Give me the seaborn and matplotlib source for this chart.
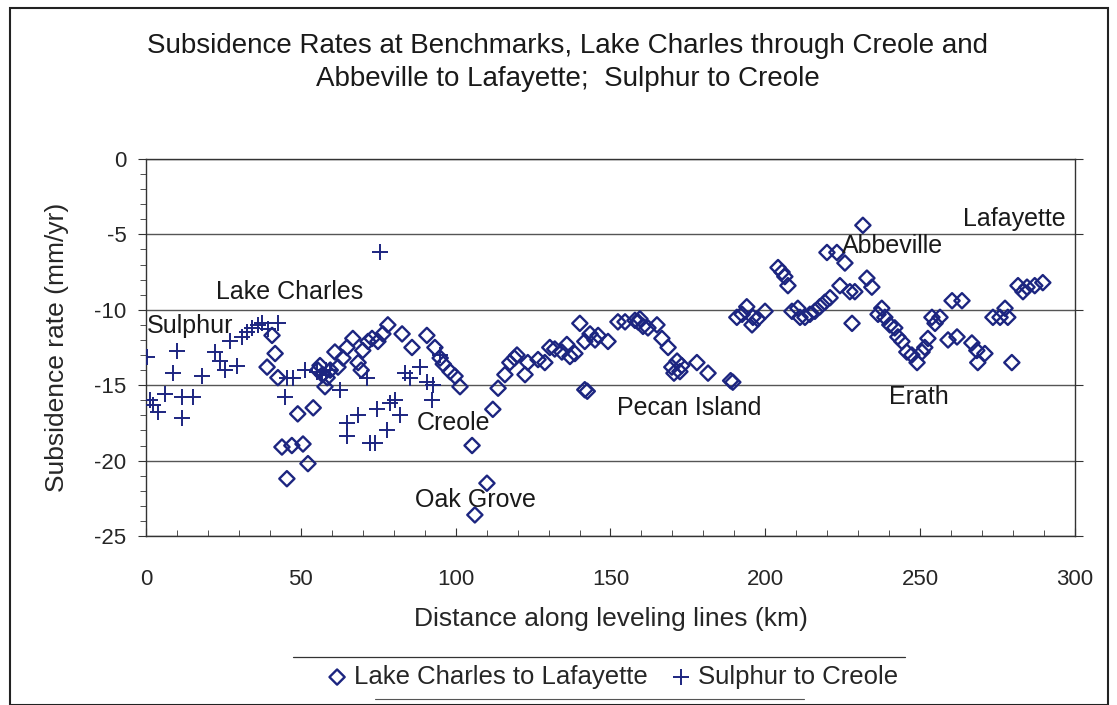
import numpy as np
import pandas as pd
import matplotlib
matplotlib.use("Agg")
import matplotlib.pyplot as plt
import seaborn as sns
from matplotlib.ticker import MultipleLocator
from matplotlib.lines import Line2D

# Lake Charles to Lafayette (diamonds)
lc_km = [39.1, 40.7, 41.7, 42.6, 43.9, 45.5, 47.1, 49.0, 50.7, 52.3, 54.0, 55.5, 56.2, 57.0,
         57.8, 58.5, 59.5, 61.0, 62.0, 63.6, 64.9, 66.8, 68.5, 69.5, 70.0, 71.7, 73.0, 74.9,
         76.5, 78.1, 82.7, 85.9, 90.7, 93.3, 95.0, 96.0, 98.2, 99.8, 101.4, 105.3, 106.2,
         110.1, 112.0, 113.7, 115.9, 117.5, 119.0, 119.8, 122.4, 123.3, 126.6, 128.8, 130.4,
         132.0, 134.3, 135.9, 136.9, 138.5, 140.1, 141.7, 141.7, 142.5, 143.4, 145.0, 146.0,
         149.2, 152.4, 154.7, 157.9, 158.9, 159.5, 160.5, 162.1, 165.0, 166.6, 168.6, 169.8,
         170.5, 171.5, 172.4, 173.0, 177.9, 181.5, 188.8, 189.5, 190.8, 192.5, 194.0, 195.7,
         196.0, 197.5, 199.9, 204.1, 205.4, 206.3, 207.3, 208.6, 210.5, 211.2, 212.8, 214.4,
         216.0, 217.6, 219.2, 219.9, 220.9, 223.1, 224.1, 225.7, 227.3, 228.0, 228.9, 231.5,
         232.8, 234.4, 236.4, 237.6, 238.6, 240.2, 241.8, 242.8, 244.1, 245.7, 247.3, 249.0,
         250.6, 251.5, 252.5, 253.8, 254.8, 256.4, 259.0, 260.3, 261.9, 263.5, 266.7, 268.3,
         268.6, 270.9, 273.5, 275.8, 277.4, 278.3, 279.6, 281.6, 283.2, 284.5, 287.0, 289.6]
lc_rate = [-13.8, -11.7, -12.9, -14.5, -19.1, -21.2, -19.0, -16.9, -18.9, -20.2, -16.5, -14.0,
           -13.7, -14.3, -15.1, -14.5, -14.0, -12.8, -13.8, -13.2, -12.5, -11.9, -13.5, -14.0,
           -12.7, -12.1, -11.9, -12.1, -11.6, -11.0, -11.6, -12.5, -11.7, -12.5, -13.2, -13.6,
           -14.1, -14.4, -15.1, -19.0, -23.6, -21.5, -16.6, -15.2, -14.3, -13.5, -13.2, -13.0,
           -14.3, -13.5, -13.3, -13.5, -12.5, -12.6, -12.8, -12.3, -13.1, -12.9, -10.9, -12.1,
           -15.3, -15.4, -11.6, -12.0, -11.7, -12.1, -10.8, -10.8, -10.7, -10.8, -10.6, -11.1,
           -11.2, -11.0, -11.9, -12.5, -13.8, -14.2, -13.4, -14.1, -13.7, -13.5, -14.2, -14.7,
           -14.8, -10.5, -10.3, -9.8, -11.0, -10.5, -10.6, -10.1, -7.2, -7.5, -7.8, -8.4, -10.1,
           -9.9, -10.5, -10.5, -10.3, -10.1, -9.8, -9.5, -6.2, -9.2, -6.2, -8.4, -6.9, -8.8,
           -10.9, -8.8, -4.4, -7.9, -8.5, -10.3, -9.9, -10.5, -11.0, -11.2, -11.8, -12.1,
           -12.8, -13.0, -13.5, -12.8, -12.5, -11.9, -10.5, -10.9, -10.5, -12.0, -9.4, -11.8,
           -9.4, -12.2, -12.7, -13.5, -12.9, -10.5, -10.5, -9.9, -10.5, -13.5, -8.4, -8.8,
           -8.5, -8.4, -8.2]

# Sulphur to Creole (plus signs)
sc_km = [0.3, 1.3, 2.3, 3.9, 6.1, 8.7, 10.0, 11.6, 11.6, 15.2, 18.1, 22.3, 23.9, 25.5, 27.1,
         29.4, 31.0, 32.6, 34.2, 36.2, 37.5, 39.4, 42.6, 44.9, 45.5, 47.5, 51.3, 55.2, 56.8,
         58.0, 59.4, 62.6, 64.9, 64.9, 68.5, 71.4, 72.3, 73.9, 74.6, 75.6, 77.8, 78.8, 80.4,
         82.0, 83.6, 85.2, 88.5, 90.7, 92.3, 92.7, 95.0]
sc_rate = [-13.1, -16.0, -16.3, -16.8, -15.6, -14.2, -12.7, -15.8, -17.2, -15.8, -14.4, -12.8,
           -13.4, -14.0, -12.1, -13.7, -11.8, -11.5, -11.2, -11.0, -10.9, -11.3, -10.9, -15.8,
           -14.5, -14.5, -14.0, -14.1, -14.3, -14.0, -14.0, -15.3, -17.5, -18.4, -17.0, -14.5,
           -18.8, -18.8, -16.6, -6.2, -18.0, -16.2, -16.0, -17.0, -14.2, -14.5, -13.8, -14.8,
           -16.0, -15.0, -13.0]

place_names = ["Lake Charles", "Sulphur", "Creole", "Oak Grove", "Pecan Island",
               "Erath", "Abbeville", "Lafayette"]
place_km = [22.6, 0.3, 87.5, 86.9, 152.0, 240.0, 224.7, 263.8]
place_rate = [-8.8, -11.1, -17.5, -22.6, -16.5, -15.8, -5.8, -4.0]

navy = "#1c2580"

sns.set_style("white")
plt.rcParams["font.family"] = ["Liberation Sans", "DejaVu Sans"]
plt.rcParams["axes.unicode_minus"] = False

fig = plt.figure(figsize=(11.17, 7.05), dpi=100)
ax = fig.add_axes([0.1307, 0.2397, 0.8317, 0.5348])

lc = pd.DataFrame({"km": lc_km, "rate": lc_rate})
sc = pd.DataFrame({"km": sc_km, "rate": sc_rate})

sns.scatterplot(data=lc, x="km", y="rate", marker="D", s=60, facecolors="none",
                edgecolor=navy, linewidth=1.7, ax=ax, label="Lake Charles to Lafayette", zorder=3)
sns.scatterplot(data=sc, x="km", y="rate", marker="+", s=120, color=navy,
                linewidth=1.4, ax=ax, label="Sulphur to Creole", zorder=3)

for name, xk, yr in zip(place_names, place_km, place_rate):
    ax.text(xk, yr, name, fontsize=18, color="#1a1a1a", ha="left", va="center", zorder=4)

ax.set_xlim(0, 300)
ax.set_ylim(-25, 0)
ax.xaxis.set_major_locator(MultipleLocator(50))
ax.xaxis.set_minor_locator(MultipleLocator(10))
ax.yaxis.set_major_locator(MultipleLocator(5))
ax.yaxis.set_minor_locator(MultipleLocator(1))
ax.tick_params(axis="y", which="major", labelsize=16, length=6, direction="out",
               color="#333333", pad=8, left=True, right=True)
ax.tick_params(axis="y", which="minor", length=4, direction="out", color="#333333", left=True)
ax.tick_params(axis="x", which="major", labelsize=16, length=6, direction="in",
               color="#333333", pad=24, bottom=True)
ax.tick_params(axis="x", which="minor", length=4, direction="in", color="#333333", bottom=True)

ax.yaxis.grid(True, which="major", color="#555555", linewidth=1.0)
ax.xaxis.grid(False)
for side in ["left", "bottom", "top", "right"]:
    ax.spines[side].set_visible(True)
    ax.spines[side].set_color("#333333")
    ax.spines[side].set_linewidth(1.0)

ax.set_xlabel("Distance along leveling lines (km)", fontsize=19, labelpad=12)
ax.set_ylabel("Subsidence rate (mm/yr)", fontsize=19, labelpad=18)

fig.text(0.508, 0.935, "Subsidence Rates at Benchmarks, Lake Charles through Creole and",
         ha="center", va="center", fontsize=20, color="#1a1a1a")
fig.text(0.508, 0.888, "Abbeville to Lafayette;  Sulphur to Creole",
         ha="center", va="center", fontsize=20, color="#1a1a1a")

ax.legend_.remove()
handles, labels = ax.get_legend_handles_labels()
leg = fig.legend(handles, labels, loc="center", bbox_to_anchor=(0.547, 0.04), ncol=2,
                 fontsize=18.5, frameon=False, handletextpad=0.15, columnspacing=0.8,
                 borderpad=0.3, handlelength=1.0)

fig.add_artist(Line2D([0.262, 0.81], [0.068, 0.068], transform=fig.transFigure,
                      color="#333333", linewidth=0.9))
fig.add_artist(Line2D([0.336, 0.72], [0.008, 0.008], transform=fig.transFigure,
                      color="#555555", linewidth=0.8))

border = plt.Rectangle((0.009, 0.0), 0.983, 0.988, transform=fig.transFigure, fill=False,
                       edgecolor="#222222", linewidth=1.5)
fig.patches.append(border)

fig.savefig("out.png", dpi=100)
